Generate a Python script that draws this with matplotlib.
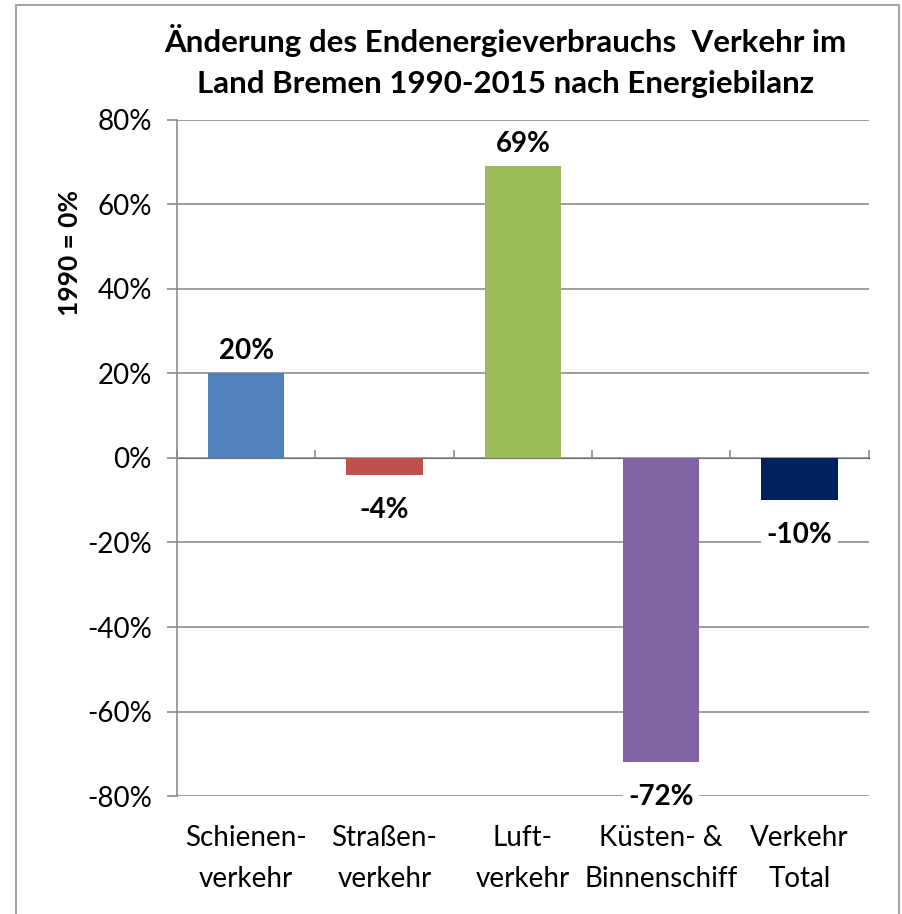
import matplotlib
matplotlib.use('Agg')
import matplotlib.pyplot as plt
from matplotlib.patches import Rectangle
from matplotlib.ticker import FuncFormatter, MultipleLocator

# Daten: Änderung gegenüber 1990 in Prozent
kategorien = ['Schienen-\nverkehr', 'Straßen-\nverkehr', 'Luft-\nverkehr',
              'Küsten- &\nBinnenschiff', 'Verkehr\nTotal']
werte = [20, -4, 69, -72, -10]
farben = ['#4F81BD', '#C0504D', '#9BBB59', '#8064A2', '#002060']

titel = 'Änderung des Endenergieverbrauchs  Verkehr im\nLand Bremen 1990-2015 nach Energiebilanz'
y_label = '1990 = 0%'

plt.rcParams['font.family'] = ['Lato', 'DejaVu Sans']
grau = '#8c8c8c'

fig = plt.figure(figsize=(9.03, 9.14), dpi=100)
ax = fig.add_axes([0.196, 0.129, 0.766, 0.740])

x = list(range(len(werte)))
bars = ax.bar(x, werte, width=0.55, color=farben, zorder=3)

ax.set_xlim(-0.5, len(werte) - 0.5)
ax.set_ylim(-80, 80)
ax.yaxis.set_major_locator(MultipleLocator(20))
ax.yaxis.set_major_formatter(FuncFormatter(lambda v, p: f'{v:.0f}%'))
ax.grid(axis='y', color=grau, linewidth=1.2, zorder=1)
ax.tick_params(axis='y', direction='out', length=7, width=1.2, color=grau,
               labelsize=20, pad=11)
ax.set_xticks(x)
ax.set_xticklabels(kategorien, fontsize=20, linespacing=1.7)
ax.tick_params(axis='x', length=0, pad=21)

for s in ['top', 'right', 'bottom']:
    ax.spines[s].set_visible(False)
ax.spines['left'].set_color(grau)
ax.spines['left'].set_linewidth(1.2)

# Nulllinie mit Teilstrichen zwischen den Kategorien
ymin, ymax = ax.get_ylim()
nulllinie = ax.secondary_xaxis((0 - ymin) / (ymax - ymin))
nulllinie.set_xticks([i - 0.5 for i in range(len(werte) + 1)])
nulllinie.set_xticklabels([])
nulllinie.tick_params(direction='out', length=6, width=1.2, color=grau)
nulllinie.spines['bottom'].set_color(grau)
nulllinie.spines['bottom'].set_linewidth(1.2)

# Beschriftung der Balken
for xi, w in zip(x, werte):
    if w >= 0:
        ax.annotate(f'{w}%', (xi, w), xytext=(0, 7), textcoords='offset points',
                    ha='center', va='bottom', fontsize=20, fontweight='bold',
                    bbox=dict(facecolor='white', edgecolor='none', pad=4), zorder=5)
    else:
        ax.annotate(f'{w}%', (xi, w), xytext=(0, -16), textcoords='offset points',
                    ha='center', va='top', fontsize=20, fontweight='bold',
                    bbox=dict(facecolor='white', edgecolor='none', pad=4), zorder=5)

ax.set_ylabel(y_label, fontsize=19, fontweight='bold')
ax.yaxis.set_label_coords(-0.137, 0.803)

fig.text(0.56, 0.933, titel, ha='center', va='center', fontsize=22.5,
         fontweight='bold', linespacing=1.55)

# Rahmen um das Diagramm
fig.add_artist(Rectangle((16 / 903, -0.01), 883 / 903, 1.01 - 5 / 914,
                         transform=fig.transFigure, fill=False,
                         edgecolor='#a6a6a6', linewidth=1.5))

fig.savefig('out.png', dpi=100)
